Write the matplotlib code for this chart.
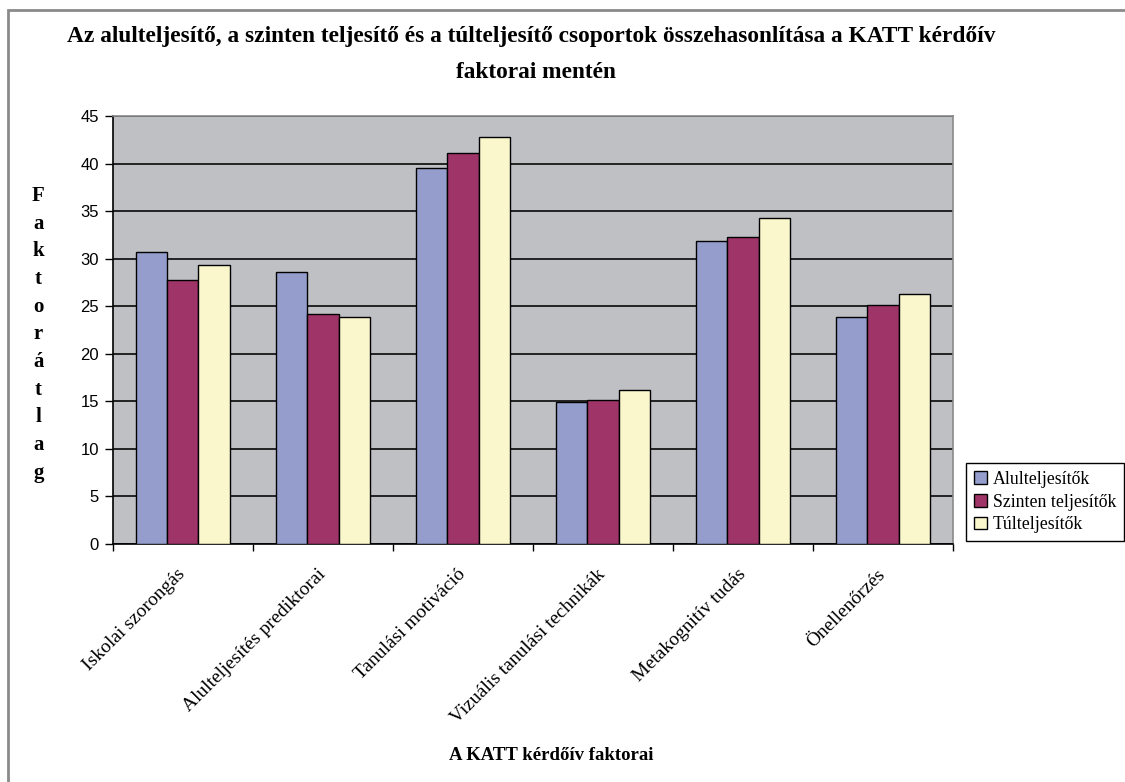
import numpy as np
import matplotlib
matplotlib.use("Agg")
import matplotlib.pyplot as plt
from matplotlib.patches import Rectangle

# Data
categories = ["Iskolai szorongás", "Alulteljesítés prediktorai", "Tanulási motiváció",
              "Vizuális tanulási technikák", "Metakognitív tudás", "Önellenőrzés"]
alul = [30.7, 28.6, 39.5, 14.9, 31.9, 23.9]
szinten = [27.8, 24.2, 41.1, 15.1, 32.3, 25.1]
tul = [29.3, 23.9, 42.8, 16.2, 34.3, 26.3]
series_names = ["Alulteljesítők", "Szinten teljesítők", "Túlteljesítők"]
colors = ["#959DCC", "#9E3468", "#FBF7CC"]

serif = "Liberation Serif"

fig = plt.figure(figsize=(11.25, 7.82), dpi=100)
ax = fig.add_axes([0.1004, 0.3043, 0.7467, 0.5474])
ax.set_facecolor("#BFC0C4")

x = np.arange(len(categories))
w = 0.222
for i, (vals, name, c) in enumerate(zip([alul, szinten, tul], series_names, colors)):
    ax.bar(x + (i - 1) * w, vals, width=w, color=c, edgecolor="black",
           linewidth=1.0, label=name, zorder=3)

ax.set_xlim(-0.5, len(categories) - 0.5)
ax.set_ylim(0, 45)
ax.set_yticks(range(0, 46, 5))
ax.tick_params(axis="y", direction="out", length=6, width=1, labelsize=12, pad=4)
for lbl in ax.get_yticklabels():
    lbl.set_fontfamily("Liberation Sans")
ax.grid(axis="y", color="#222222", linewidth=1.4, zorder=1)
ax.set_axisbelow(True)

# category ticks between groups, labels centred on groups
ax.set_xticks(np.arange(-0.5, len(categories) - 0.4, 1.0))
ax.set_xticklabels([])
ax.set_xticks(x, minor=True)
ax.set_xticklabels(categories, minor=True, rotation=45, ha="right", va="center",
                   rotation_mode="anchor", fontfamily=serif, fontsize=14)
ax.tick_params(axis="x", which="major", direction="out", length=5, width=1)
ax.tick_params(axis="x", which="minor", length=0, pad=20)
for lbl in ax.get_xticklabels(minor=True):
    lbl.set_x(lbl.get_position()[0])

for s in ["left", "bottom"]:
    ax.spines[s].set_color("black")
    ax.spines[s].set_linewidth(1.2)
for s in ["top", "right"]:
    ax.spines[s].set_color("#8A8A8A")
    ax.spines[s].set_linewidth(1.2)

# stacked vertical y label
fig.text(0.034, 0.762, "\n".join("Faktorátlag"), ha="center", va="top",
         fontfamily=serif, fontweight="bold", fontsize=15, linespacing=1.51)

fig.text(0.472, 0.953, "Az alulteljesítő, a szinten teljesítő és a túlteljesítő csoportok összehasonlítása a KATT kérdőív",
         ha="center", va="center", fontfamily=serif, fontweight="bold", fontsize=16.8)
fig.text(0.476, 0.907, "faktorai mentén", ha="center", va="center",
         fontfamily=serif, fontweight="bold", fontsize=16.8)

fig.text(0.49, 0.034, "A KATT kérdőív faktorai", ha="center", va="center",
         fontfamily=serif, fontweight="bold", fontsize=13.5)

leg = fig.legend(loc="upper left", bbox_to_anchor=(0.859, 0.408), frameon=True,
                 fancybox=False, edgecolor="black", framealpha=1,
                 prop={"family": serif, "size": 12.8}, handlelength=0.7,
                 handleheight=0.7, handletextpad=0.35, borderpad=0.45,
                 labelspacing=0.32, borderaxespad=0)
leg.get_frame().set_linewidth(1.0)

# outer chart frame
fig.patches.append(Rectangle((0.007, -0.05), 1.2, 1.037, transform=fig.transFigure,
                             fill=False, edgecolor="#8A8A8A", linewidth=2.0))

plt.savefig("out.png", dpi=100)
